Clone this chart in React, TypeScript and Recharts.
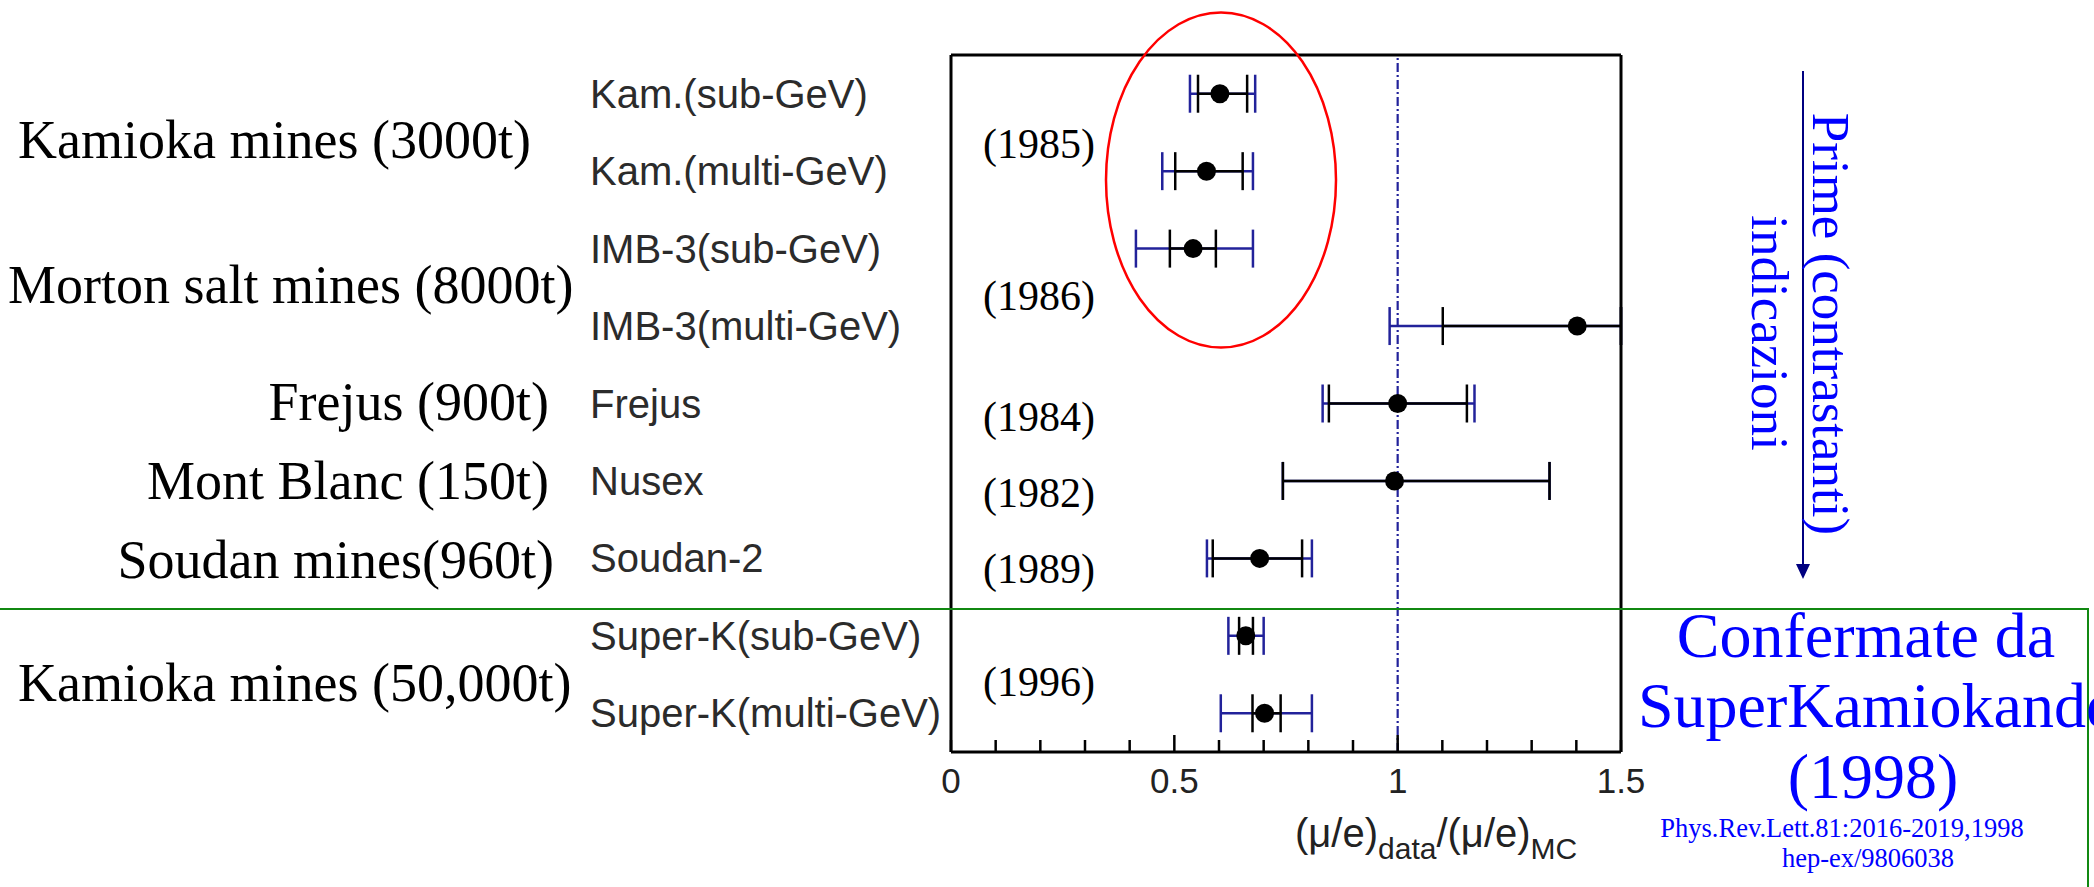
import React from "react";
import {
  ScatterChart,
  Scatter,
  XAxis,
  YAxis,
  ErrorBar,
  ReferenceLine,
} from "recharts";

// experiments, top to bottom
const experiments = [
  "Kam.(sub-GeV)",
  "Kam.(multi-GeV)",
  "IMB-3(sub-GeV)",
  "IMB-3(multi-GeV)",
  "Frejus",
  "Nusex",
  "Soudan-2",
  "Super-K(sub-GeV)",
  "Super-K(multi-GeV)",
];

// (mu/e)data / (mu/e)MC
const ratios = [0.602, 0.572, 0.542, 1.402, 1.0, 0.993, 0.691, 0.66, 0.702];
// statistical error range (black); IMB-3 multi-GeV runs off the frame at 1.5
const statLow = [0.553, 0.502, 0.49, 1.101, 0.846, 0.743, 0.586, 0.645, 0.675];
const statHigh = [0.663, 0.653, 0.593, 1.5, 1.155, 1.34, 0.786, 0.676, 0.738];
// stat + syst range (blue)
const totalLow = [0.535, 0.473, 0.414, 0.982, 0.832, 0.743, 0.573, 0.621, 0.604];
const totalHigh = [0.681, 0.676, 0.676, 1.5, 1.172, 1.34, 0.808, 0.7, 0.808];

const xTicks = [0, 0.1, 0.2, 0.3, 0.4, 0.5, 0.6, 0.7, 0.8, 0.9, 1, 1.1, 1.2, 1.3, 1.4, 1.5];
const xTickLabels = ["0", "0.5", "1", "1.5"];
const majorTicks = [0.5, 1];

const detectorGroups = [
  { label: "Kamioka mines (3000t)", x: 18, y: 140, anchor: "start" },
  { label: "Morton salt mines (8000t)", x: 8, y: 285, anchor: "start" },
  { label: "Frejus (900t)", x: 549, y: 402, anchor: "end" },
  { label: "Mont Blanc (150t)", x: 549, y: 481, anchor: "end" },
  { label: "Soudan mines(960t)", x: 554, y: 560, anchor: "end" },
  { label: "Kamioka mines (50,000t)", x: 18, y: 683, anchor: "start" },
];

const years = ["(1985)", "(1986)", "(1984)", "(1982)", "(1989)", "(1996)"];
const yearY = [144, 296, 417, 493, 569, 682];

const data = experiments.map((name, i) => ({
  name,
  row: i + 0.5,
  ratio: ratios[i],
  statErr: [ratios[i] - statLow[i], statHigh[i] - ratios[i]],
  totErr: [ratios[i] - totalLow[i], totalHigh[i] - ratios[i]],
}));

const SANS = "'Liberation Sans', Arial, Helvetica, sans-serif";
const SERIF = "'Liberation Serif', 'Times New Roman', Times, serif";
const NAVY = "#22229a";

const BottomTick = (props: any) => {
  const { x, y, payload } = props;
  const v = payload.value;
  const len = majorTicks.some((m) => Math.abs(m - v) < 1e-6) ? 17 : 12;
  const label = xTickLabels.find((t) => Math.abs(parseFloat(t) - v) < 1e-6);
  return (
    <g>
      <line x1={x} x2={x} y1={y} y2={y - len} stroke="#000" strokeWidth={2.5} />
      {label && (
        <text
          x={x}
          y={y + 28}
          textAnchor="middle"
          dominantBaseline="central"
          fontFamily={SANS}
          fontSize={35}
          fill="#222"
        >
          {label}
        </text>
      )}
    </g>
  );
};

const TopTick = (props: any) => {
  const { x, y, payload } = props;
  const v = payload.value;
  const len = majorTicks.some((m) => Math.abs(m - v) < 1e-6) ? 17 : 10;
  return <line x1={x} x2={x} y1={y} y2={y + len} stroke="#000" strokeWidth={2.5} />;
};

const RowTick = (props: any) => {
  const { y, payload } = props;
  const idx = Math.round(payload.value - 0.5);
  return (
    <text
      x={590}
      y={y}
      dominantBaseline="central"
      fontFamily={SANS}
      fontSize={40}
      fill="#2b2b2b"
    >
      {experiments[idx]}
    </text>
  );
};

const Dot = (props: any) => <circle cx={props.cx} cy={props.cy} r={9.5} fill="#000" />;

export default function App() {
  return (
    <div style={{ position: "absolute", left: 0, top: 0, width: 2094, height: 887, background: "#fff" }}>
      <ScatterChart
        width={2094}
        height={887}
        margin={{ top: 54, right: 472, bottom: 35, left: 0 }}
      >
        <XAxis
          type="number"
          dataKey="ratio"
          domain={[0, 1.5]}
          ticks={xTicks}
          allowDataOverflow
          height={100}
          tickSize={0}
          tickMargin={0}
          tickLine={false}
          tick={<BottomTick />}
          axisLine={{ stroke: "#000", strokeWidth: 3 }}
          interval={0}
        />
        <XAxis
          xAxisId="top"
          orientation="top"
          type="number"
          domain={[0, 1.5]}
          ticks={xTicks}
          allowDataOverflow
          height={1}
          tickSize={0}
          tickMargin={0}
          tickLine={false}
          tick={<TopTick />}
          axisLine={{ stroke: "#000", strokeWidth: 3 }}
          interval={0}
        />
        <YAxis
          type="number"
          dataKey="row"
          domain={[0, 9]}
          reversed
          allowDataOverflow
          ticks={[0.5, 1.5, 2.5, 3.5, 4.5, 5.5, 6.5, 7.5, 8.5]}
          width={951}
          tickSize={0}
          tickMargin={0}
          tickLine={false}
          tick={<RowTick />}
          axisLine={{ stroke: "#000", strokeWidth: 3 }}
          interval={0}
        />
        <YAxis
          yAxisId="right"
          orientation="right"
          type="number"
          domain={[0, 9]}
          width={1}
          tick={false}
          tickLine={false}
          axisLine={{ stroke: "#000", strokeWidth: 3 }}
        />
        <ReferenceLine
          x={1}
          stroke={NAVY}
          strokeWidth={2.2}
          strokeDasharray="9 3 2 3"
        />
        <Scatter data={data} shape={<Dot />} isAnimationActive={false}>
          <ErrorBar
            dataKey="totErr"
            direction="x"
            width={19}
            stroke={NAVY}
            strokeWidth={2.5}
          />
          <ErrorBar
            dataKey="statErr"
            direction="x"
            width={19}
            stroke="#000"
            strokeWidth={2.5}
          />
        </Scatter>
      </ScatterChart>

      <svg
        width={2094}
        height={887}
        style={{ position: "absolute", left: 0, top: 0, pointerEvents: "none" }}
      >
        {detectorGroups.map((g) => (
          <text
            key={g.label}
            x={g.x}
            y={g.y}
            textAnchor={g.anchor as any}
            dominantBaseline="central"
            fontFamily={SERIF}
            fontSize={54}
            fill="#000"
          >
            {g.label}
          </text>
        ))}
        {years.map((t, i) => (
          <text
            key={t}
            x={983}
            y={yearY[i]}
            dominantBaseline="central"
            fontFamily={SERIF}
            fontSize={42}
            fill="#000"
          >
            {t}
          </text>
        ))}

        {/* axis title */}
        <text x={1295} y={847} fontFamily={SANS} fontSize={40} fill="#222">
          (μ/e)
          <tspan fontSize={30} dy={12}>data</tspan>
          <tspan dy={-12}>/(μ/e)</tspan>
          <tspan fontSize={30} dy={12}>MC</tspan>
        </text>

        {/* highlight of the early results */}
        <ellipse cx={1221} cy={180} rx={115} ry={167.5} fill="none" stroke="#ff0000" strokeWidth={2.5} />

        {/* confirmation box */}
        <path d="M0 609 H2088 V887" fill="none" stroke="#118811" strokeWidth={2} />

        {/* arrow + rotated note */}
        <line x1={1803} y1={71} x2={1803} y2={566} stroke="#000080" strokeWidth={2} />
        <path d="M1796 564 L1810 564 L1803 579 Z" fill="#000080" />
        <text
          transform="translate(1813 324) rotate(90)"
          textAnchor="middle"
          fontFamily={SERIF}
          fontSize={53}
          fill="#0000ff"
        >
          Prime (contrastanti)
        </text>
        <text
          transform="translate(1752 333) rotate(90)"
          textAnchor="middle"
          fontFamily={SERIF}
          fontSize={53}
          fill="#0000ff"
        >
          indicazioni
        </text>

        <g fontFamily={SERIF} fill="#0000ff">
          <text x={1866} y={657} textAnchor="middle" fontSize={64}>Confermate da</text>
          <text x={1638} y={727} fontSize={64}>SuperKamiokande</text>
          <text x={1873} y={798} textAnchor="middle" fontSize={64}>(1998)</text>
          <text x={1842} y={837} textAnchor="middle" fontSize={26.5}>Phys.Rev.Lett.81:2016-2019,1998</text>
          <text x={1868} y={867} textAnchor="middle" fontSize={26.5}>hep-ex/9806038</text>
        </g>
      </svg>
    </div>
  );
}
